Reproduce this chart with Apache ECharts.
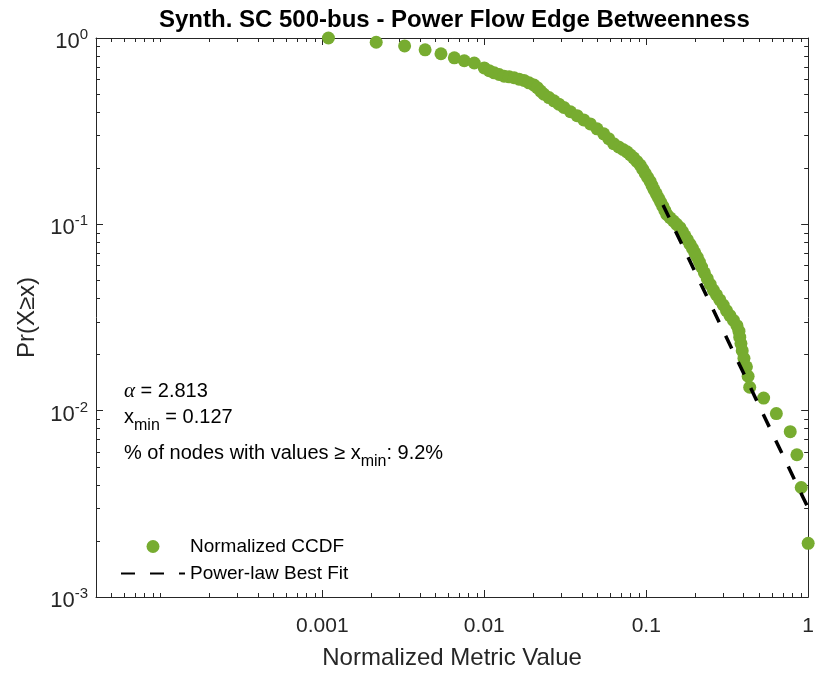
<!DOCTYPE html>
<html>
<head>
<meta charset="utf-8">
<script src="https://cdn.jsdelivr.net/npm/echarts@6/dist/echarts.min.js"></script>
<style>html,body{margin:0;padding:0;background:#fff}#c{width:817px;height:675px}</style>
</head>
<body>
<div id="c"></div>
<script>
// ---- data ----
const ccdfX = [0.00109, 0.00215, 0.00322, 0.00431, 0.0054, 0.00653, 0.00752, 0.00867,
  0.00999, 0.01072, 0.01151, 0.01235, 0.01326, 0.01423, 0.01527, 0.01639, 0.01759, 0.01888,
  0.02027, 0.02124, 0.02226, 0.02335, 0.02507, 0.02691, 0.02888, 0.0310, 0.03404, 0.03742,
  0.04115, 0.04518, 0.04968, 0.05462, 0.05863, 0.0629, 0.06756, 0.0718, 0.0760, 0.07962,
  0.08354, 0.08754, 0.0917, 0.09504, 0.0985, 0.1020, 0.1057, 0.1087, 0.1118, 0.1154,
  0.119, 0.1226, 0.1265, 0.1302, 0.1339, 0.1403, 0.1472, 0.1542, 0.1616, 0.1674,
  0.1735, 0.1798, 0.1862, 0.1929, 0.1996, 0.2068, 0.2131, 0.2198, 0.2287, 0.2382,
  0.2485, 0.2594, 0.2717, 0.2848, 0.2988, 0.3131, 0.329, 0.3458, 0.3633, 0.3737,
  0.378, 0.3845, 0.3916, 0.4013, 0.4157, 0.4258, 0.4355, 0.531, 0.636, 0.775,
  0.852, 0.906, 1.0];
const ccdfY = [1.0, 0.949, 0.907, 0.864, 0.823, 0.783, 0.755, 0.734,
  0.691, 0.668, 0.650, 0.637, 0.624, 0.619, 0.612, 0.601, 0.592, 0.575,
  0.559, 0.541, 0.519, 0.499, 0.479, 0.460, 0.4416, 0.424, 0.4019, 0.383,
  0.3632, 0.346, 0.3255, 0.306, 0.2881, 0.271, 0.2603, 0.2525, 0.245, 0.2363,
  0.2276, 0.2176, 0.208, 0.1978, 0.1879, 0.1785, 0.170, 0.1613, 0.1533, 0.1458,
  0.1385, 0.1316, 0.1252, 0.1189, 0.113, 0.1085, 0.1042, 0.100, 0.0960, 0.0913,
  0.0868, 0.0825, 0.0783, 0.0743, 0.0703, 0.0666, 0.0627, 0.0590, 0.0549, 0.0511,
  0.0476, 0.0444, 0.0418, 0.0393, 0.0369, 0.0344, 0.0324, 0.0305, 0.0286, 0.0267,
  0.0248, 0.0229, 0.0210, 0.0191, 0.0172, 0.0153, 0.01336, 0.01168, 0.00965, 0.00771,
  0.0058, 0.00387, 0.00194];
const fitX = [0.127, 1.0];
const fitY = [0.127, 0.003];
const xMajorTicks = [0.001, 0.01, 0.1, 1];
const xMinorTicks = [5e-5, 6e-5, 7e-5, 8e-5, 9e-5, 1e-4, 2e-4, 3e-4, 4e-4, 5e-4, 6e-4, 7e-4, 8e-4, 9e-4, 0.002, 0.003, 0.004, 0.005, 0.006, 0.007, 0.008, 0.009, 0.02, 0.03, 0.04, 0.05, 0.06, 0.07, 0.08, 0.09, 0.2, 0.3, 0.4, 0.5, 0.6, 0.7, 0.8, 0.9];
const yMajorTicks = [0.001, 0.01, 0.1, 1];
const yMinorTicks = [0.002, 0.003, 0.004, 0.005, 0.006, 0.007, 0.008, 0.009, 0.02, 0.03, 0.04, 0.05, 0.06, 0.07, 0.08, 0.09, 0.2, 0.3, 0.4, 0.5, 0.6, 0.7, 0.8, 0.9];
const xTickLabels = ['0.001', '0.01', '0.1', '1'];
const titleText = 'Synth. SC 500-bus - Power Flow Edge Betweenness';
const xName = 'Normalized Metric Value';
const yName = 'Pr(X\u2265x)';
const seriesNames = ['Normalized CCDF', 'Power-law Best Fit'];

// ---- chart ----
const FONT = '"Liberation Sans", Arial, Helvetica, sans-serif';
const AX = '#262626';
const GREEN = '#77AC30';
const XMIN = 4e-5, XMAX = 1, YMIN = 1e-3, YMAX = 1;

function near(a, b) { return Math.abs(Math.log10(a) - Math.log10(b)) < 1e-6; }

function xAx(pos, ticks, len, showLine, showLabel) {
  return {
    type: 'log', logBase: 10, min: XMIN, max: XMAX, position: pos,
    axisLine: {show: showLine, onZero: false, lineStyle: {color: AX, width: 1}},
    axisTick: {show: true, inside: true, length: len, customValues: ticks, lineStyle: {color: AX, width: 1}},
    minorTick: {show: false},
    splitLine: {show: false},
    axisLabel: showLabel ? {
      show: true, customValues: xMajorTicks, margin: 19, color: AX, fontFamily: FONT, fontSize: 21,
      formatter: function (v) { for (let i = 0; i < xMajorTicks.length; i++) { if (near(v, xMajorTicks[i])) return xTickLabels[i]; } return ''; }
    } : {show: false}
  };
}
function yAx(pos, ticks, len, showLine, showLabel) {
  return {
    type: 'log', logBase: 10, min: YMIN, max: YMAX, position: pos,
    axisLine: {show: showLine, onZero: false, lineStyle: {color: AX, width: 1}},
    axisTick: {show: true, inside: true, length: len, customValues: ticks, lineStyle: {color: AX, width: 1}},
    minorTick: {show: false},
    splitLine: {show: false},
    axisLabel: showLabel ? {
      show: true, customValues: yMajorTicks, margin: 8, color: AX, fontFamily: FONT,
      padding: [8, 0, 0, 0],
      formatter: function (v) { const e = Math.round(Math.log10(v)); return '{b|10}{s|' + e + '}'; },
      rich: {
        b: {fontSize: 22, fontFamily: FONT, color: AX},
        s: {fontSize: 15, fontFamily: FONT, color: AX, padding: [0, 0, 14, 0]}
      }
    } : {show: false}
  };
}

const xAxes = [xAx('bottom', xMajorTicks, 7, true, true), xAx('bottom', xMinorTicks, 4, false, false),
               xAx('top', xMajorTicks, 7, true, false), xAx('top', xMinorTicks, 4, false, false)];
xAxes[0].name = xName; xAxes[0].nameLocation = 'middle'; xAxes[0].nameGap = 49;
xAxes[0].nameTextStyle = {fontSize: 24, fontFamily: FONT, color: AX};
const yAxes = [yAx('left', yMajorTicks, 7, true, true), yAx('left', yMinorTicks, 4, false, false),
               yAx('right', yMajorTicks, 7, true, false), yAx('right', yMinorTicks, 4, false, false)];
yAxes[0].name = yName; yAxes[0].nameLocation = 'middle'; yAxes[0].nameGap = 55;
yAxes[0].nameTextStyle = {fontSize: 24, fontFamily: FONT, color: AX};

const ccdfData = ccdfX.map((x, i) => [x, ccdfY[i]]);
const fitData = fitX.map((x, i) => [x, fitY[i]]);

const chart = echarts.init(document.getElementById('c'), null, {renderer: 'canvas'});
chart.setOption({
  backgroundColor: '#fff',
  animation: false,
  grid: {left: 96, right: 6, top: 38, bottom: 71, containLabel: false},
  xAxis: xAxes,
  yAxis: yAxes,
  legend: {
    orient: 'vertical', left: 115, top: 532, itemWidth: 64, itemHeight: 13, itemGap: 8,
    textStyle: {fontSize: 19, fontFamily: FONT, color: '#000'},
    data: [seriesNames[0], {name: seriesNames[1], itemStyle: {opacity: 0}}]
  },
  graphic: [
    {type: 'text', left: 456 - 297, top: 8, z: 100,
     style: {text: titleText, fontSize: 24, fontWeight: 'bold', fontFamily: FONT, fill: '#000'}},
    {type: 'text', left: 124, top: 381, z: 100,
     style: {text: '{a|\u03b1} = 2.813', fontSize: 20, fontFamily: FONT, fill: '#000',
       rich: {a: {fontSize: 21, fontStyle: 'italic', fontFamily: '"Liberation Serif", "DejaVu Serif", serif'}}}},
    {type: 'text', left: 124, top: 407, z: 100,
     style: {text: '{n|x}{sub|min}{n| = 0.127}', fontFamily: FONT, fill: '#000',
       rich: {n: {fontSize: 20, fontFamily: FONT, verticalAlign: 'top'},
              sub: {fontSize: 16, fontFamily: FONT, padding: [11, 0, 0, 0]}}}},
    {type: 'text', left: 124, top: 443, z: 100,
     style: {text: '{n|% of nodes with values \u2265 x}{sub|min}{n|: 9.2%}', fontFamily: FONT, fill: '#000',
       rich: {n: {fontSize: 20, fontFamily: FONT, verticalAlign: 'top'},
              sub: {fontSize: 16, fontFamily: FONT, padding: [11, 0, 0, 0]}}}}
  ],
  series: [
    {name: seriesNames[0], type: 'scatter', xAxisIndex: 0, yAxisIndex: 0, data: ccdfData,
     symbol: 'circle', symbolSize: 13, itemStyle: {color: GREEN, opacity: 1}, z: 2},
    {name: seriesNames[1], type: 'line', xAxisIndex: 0, yAxisIndex: 0, data: fitData,
     symbol: 'none', showSymbol: false, itemStyle: {color: '#000'},
     lineStyle: {color: '#000', width: 3.5, type: [14, 15]}, z: 3}
  ]
});
</script>
</body>
</html>
